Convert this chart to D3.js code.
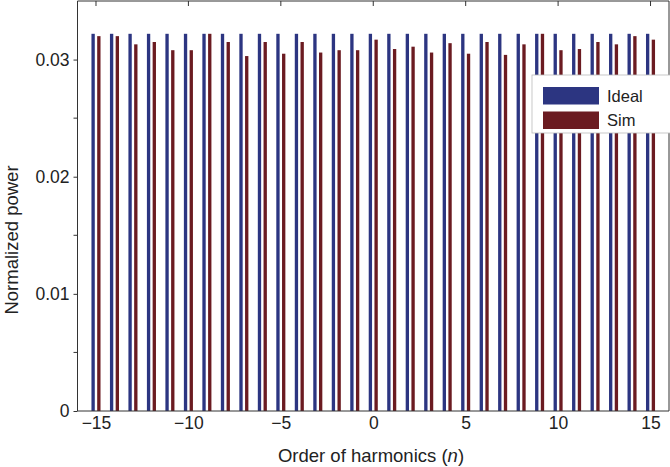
<!DOCTYPE html>
<meta charset="utf-8">
<head>
<title>Normalized power of harmonics</title>
<style>
  body { margin: 0; background: #fff; }
  text { font-family: "Liberation Sans", Arial, sans-serif; fill: #222; }
</style>
</head>
<body>
<svg width="670" height="467"></svg>
<script src="https://cdn.jsdelivr.net/npm/d3@7/dist/d3.min.js"></script>
<script>
// harmonic orders
var orders = d3.range(-15, 16);

// ideal: flat comb
var ideal = [0.0322, 0.0322, 0.0322, 0.0322, 0.0322, 0.0322, 0.0322, 0.0322,
             0.0322, 0.0322, 0.0322, 0.0322, 0.0322, 0.0322, 0.0322, 0.0322,
             0.0322, 0.0322, 0.0322, 0.0322, 0.0322, 0.0322, 0.0322, 0.0322,
             0.0322, 0.0322, 0.0322, 0.0322, 0.0322, 0.0322, 0.0322];

// simulated
var sim = [0.0320, 0.0320, 0.0313, 0.0315, 0.0308, 0.0308, 0.0322, 0.0315,
           0.0303, 0.0315, 0.0305, 0.0315, 0.0306, 0.0308, 0.0308, 0.0317,
           0.0309, 0.0311, 0.0306, 0.0314, 0.0305, 0.0315, 0.0304, 0.0313,
           0.0322, 0.0308, 0.0309, 0.0315, 0.0313, 0.0320, 0.0317];

var xTicks = [-15, -10, -5, 0, 5, 10, 15];
var yTicks = [0, 0.01, 0.02, 0.03];
var yMinor = [0.005, 0.015, 0.025];

var seriesNames = ["Ideal", "Sim"];
var colors = ["#2c3581", "#6b1b21"];

var svg = d3.select("svg");
// (window.top is read-only, so use other names)
var pL = 77.5, pR = 669, pT = 1, pB = 411;

var x = d3.scaleLinear().domain([-16, 16]).range([pL, pR]);
var y = d3.scaleLinear().domain([0, 0.035]).range([pB, pT]);

var barW = x(0.18) - x(0);
var offs = [-0.155, 0.155];

// bars
[ideal, sim].forEach(function(vals, s) {
  svg.append("g").selectAll("rect")
    .data(orders)
    .enter().append("rect")
    .attr("x", function(d) { return x(d + offs[s]) - barW / 2; })
    .attr("width", barW)
    .attr("y", function(d, i) { return y(vals[i]); })
    .attr("height", function(d, i) { return y(0) - y(vals[i]); })
    .attr("fill", colors[s]);
});

// frame
var frame = svg.append("g").attr("stroke", "#333").attr("fill", "none");
frame.append("line").attr("x1", pL).attr("x2", pL).attr("y1", pT).attr("y2", pB);
frame.append("line").attr("x1", pL).attr("x2", pR).attr("y1", pB).attr("y2", pB);
frame.append("line").attr("x1", pL).attr("x2", pR).attr("y1", pT).attr("y2", pT);
frame.append("line").attr("x1", pR).attr("x2", pR).attr("y1", pT).attr("y2", pB);

// x axis labels
svg.append("g").attr("transform", "translate(0," + pB + ")")
  .call(d3.axisBottom(x).tickValues(xTicks).tickSize(0).tickPadding(6)
        .tickFormat(function(d) { return d < 0 ? "\u2212" + (-d) : d; }))
  .call(function(g) { g.select(".domain").remove(); })
  .selectAll("text").style("font-size", "17.5px").attr("fill", "#222");

// top ticks
frame.selectAll(".tt").data(xTicks).enter().append("line")
  .attr("x1", function(d) { return x(d); }).attr("x2", function(d) { return x(d); })
  .attr("y1", pT).attr("y2", pT + 5);

// y axis
svg.append("g").attr("transform", "translate(" + pL + ",0)")
  .call(d3.axisLeft(y).tickValues(yTicks).tickSize(4).tickPadding(4)
        .tickFormat(function(d) { return d === 0 ? "0" : d3.format(".2f")(d); }))
  .call(function(g) {
    g.select(".domain").remove();
    g.selectAll("line").attr("stroke", "#333");
  })
  .selectAll("text").style("font-size", "17.5px").attr("fill", "#222");

frame.selectAll(".ym").data(yMinor).enter().append("line")
  .attr("x1", pL - 4).attr("x2", pL)
  .attr("y1", function(d) { return y(d); }).attr("y2", function(d) { return y(d); });

// axis titles
svg.append("text")
  .attr("x", 371).attr("y", 462)
  .attr("text-anchor", "middle").style("font-size", "18.5px")
  .html("Order of harmonics (<tspan font-style='italic'>n</tspan>)");

svg.append("text")
  .attr("transform", "translate(18,240) rotate(-90)")
  .attr("text-anchor", "middle").style("font-size", "18.5px")
  .text("Normalized power");

// legend
var lg = svg.append("g").attr("transform", "translate(532,75)");
lg.append("rect").attr("width", 145).attr("height", 58)
  .attr("fill", "#fff").attr("stroke", "#bbb").attr("stroke-width", 0.8);
seriesNames.forEach(function(name, i) {
  lg.append("rect").attr("x", 11).attr("y", 12 + i * 24.5)
    .attr("width", 56).attr("height", 17.5).attr("fill", colors[i]);
  lg.append("text").attr("x", 75).attr("y", 21 + i * 24.5).attr("dy", "0.35em")
    .style("font-size", "16.5px").text(name);
});
</script>
</body>
